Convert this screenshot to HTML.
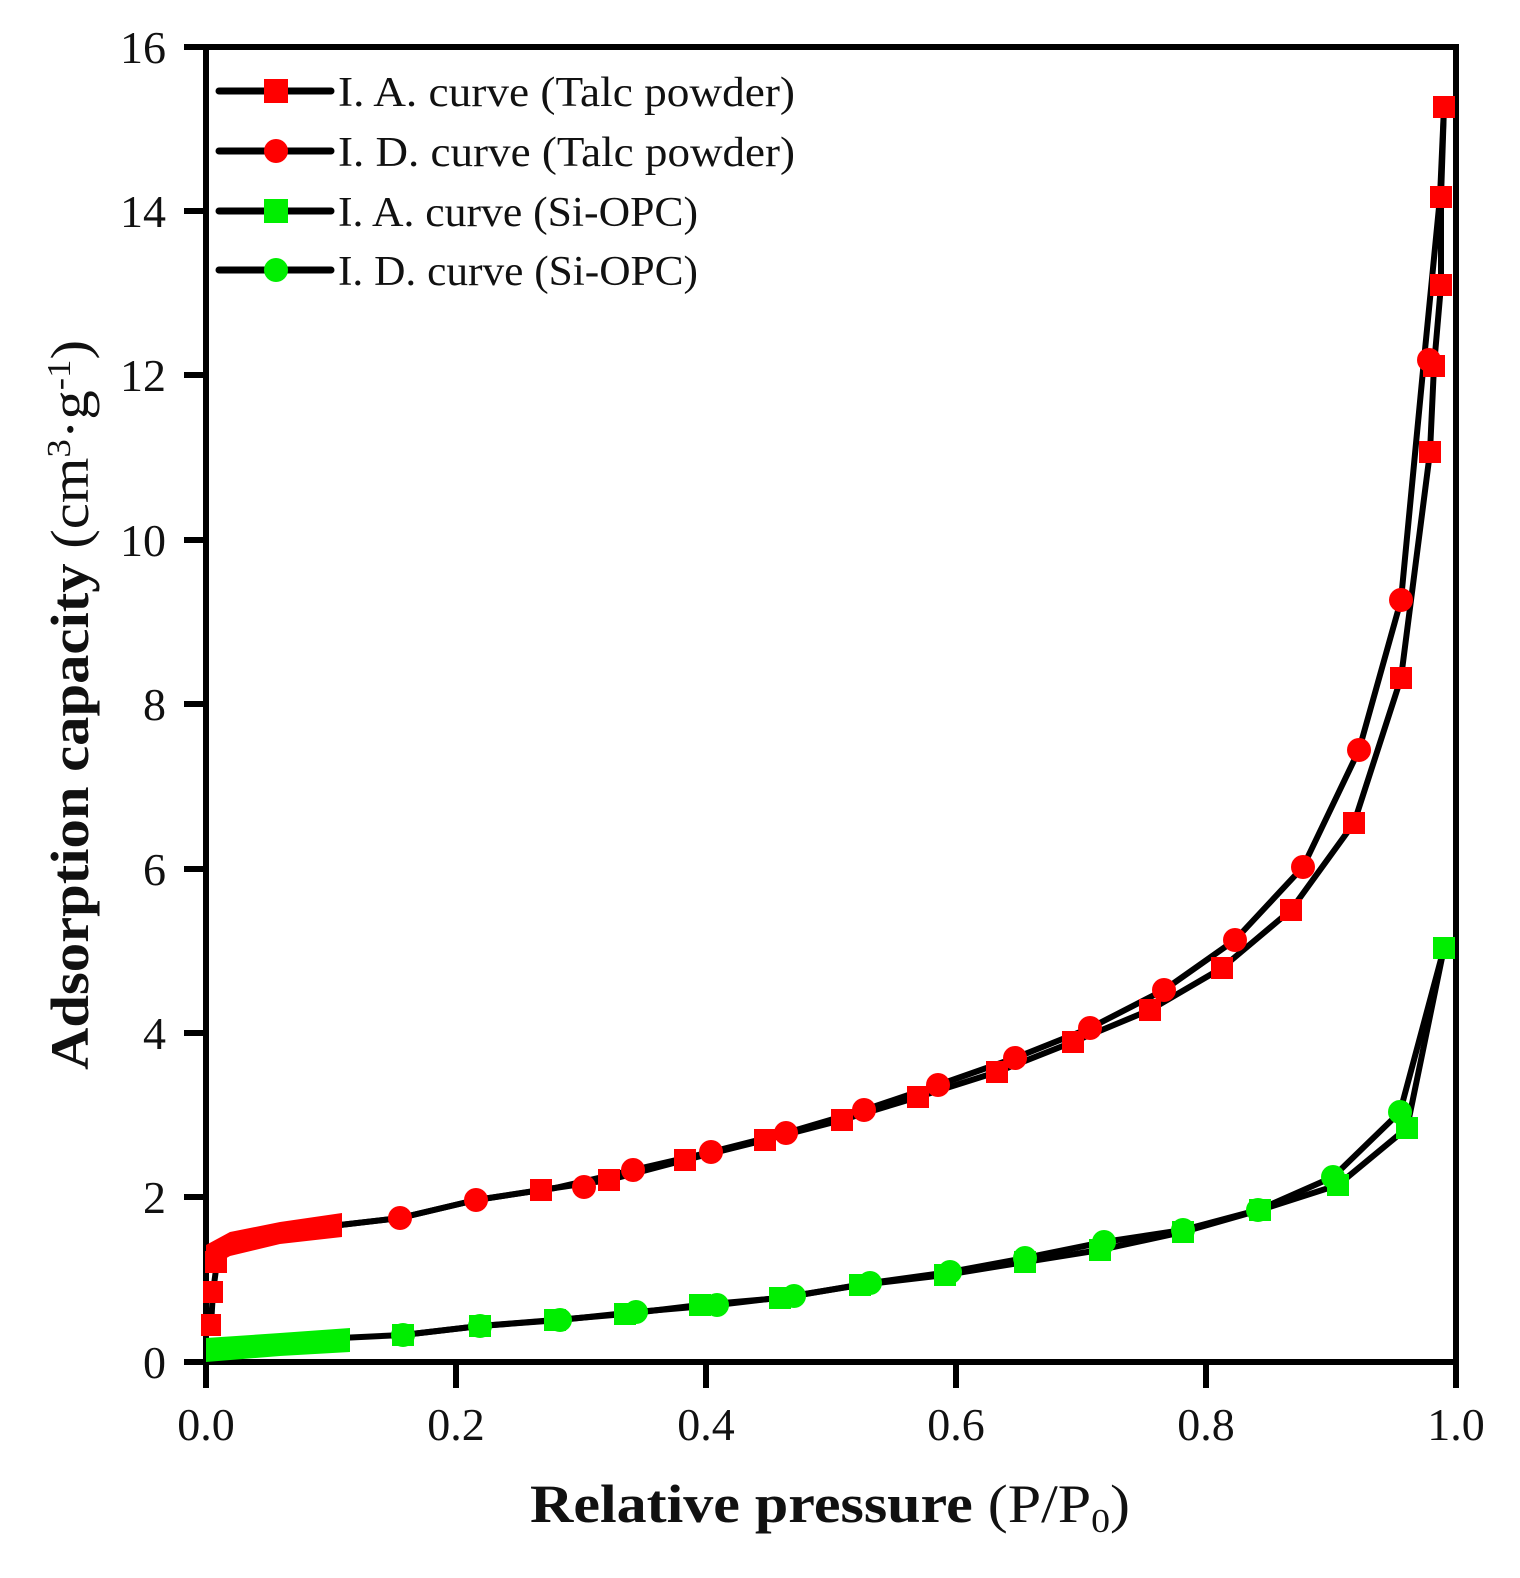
<!DOCTYPE html>
<html><head><meta charset="utf-8"><style>body{margin:0;background:#fff}</style></head><body>
<svg width="1520" height="1573" viewBox="0 0 1520 1573" xmlns="http://www.w3.org/2000/svg" font-family="Liberation Serif, serif">
<rect width="1520" height="1573" fill="#fff"/>
<g stroke="#000" stroke-width="6" fill="none">
<rect x="206" y="47" width="1250" height="1315"/>
<line x1="184" y1="47" x2="206" y2="47"/><line x1="184" y1="211" x2="206" y2="211"/><line x1="184" y1="375" x2="206" y2="375"/><line x1="184" y1="540" x2="206" y2="540"/><line x1="184" y1="704" x2="206" y2="704"/><line x1="184" y1="869" x2="206" y2="869"/><line x1="184" y1="1033" x2="206" y2="1033"/><line x1="184" y1="1197" x2="206" y2="1197"/><line x1="184" y1="1362" x2="206" y2="1362"/>
<line x1="206" y1="1362" x2="206" y2="1388"/><line x1="456" y1="1362" x2="456" y2="1388"/><line x1="706" y1="1362" x2="706" y2="1388"/><line x1="956" y1="1362" x2="956" y2="1388"/><line x1="1206" y1="1362" x2="1206" y2="1388"/><line x1="1456" y1="1362" x2="1456" y2="1388"/>
</g>
<g font-size="46" fill="#111" text-anchor="end">
<text x="166" y="63">16</text><text x="166" y="227">14</text><text x="166" y="391">12</text><text x="166" y="556">10</text><text x="166" y="720">8</text><text x="166" y="885">6</text><text x="166" y="1049">4</text><text x="166" y="1213">2</text><text x="166" y="1378">0</text>
</g>
<g font-size="46" fill="#111" text-anchor="middle">
<text x="206" y="1440">0.0</text><text x="456" y="1440">0.2</text><text x="706" y="1440">0.4</text><text x="956" y="1440">0.6</text><text x="1206" y="1440">0.8</text><text x="1456" y="1440">1.0</text>
</g>
<text x="530" y="1522" font-size="54" fill="#111" textLength="600" lengthAdjust="spacingAndGlyphs"><tspan font-weight="bold">Relative pressure</tspan> (P/P<tspan font-size="34" dy="10">0</tspan><tspan dy="-10">)</tspan></text>
<text transform="translate(88,1070) rotate(-90)" font-size="54" fill="#111" textLength="730" lengthAdjust="spacingAndGlyphs"><tspan font-weight="bold">Adsorption capacity</tspan> (cm<tspan font-size="34" dy="-18">3</tspan><tspan dy="18">·g</tspan><tspan font-size="34" dy="-18">-1</tspan><tspan dy="18">)</tspan></text>
<g stroke="#000" stroke-width="6" fill="none" stroke-linejoin="round">
<polyline points="211,1325 213,1292 217,1262 230,1243 280,1232 340,1225 400,1218 476,1200 541,1190 609,1180 685,1160 765,1140 842,1120 918,1097 997,1072 1073,1042 1150,1010 1222,968 1291,910 1354,823 1401,678 1430,452 1434,366 1441,285 1441,197 1444,107"/>
<polyline points="1444,107 1440,197 1424,360 1401,600 1359,750 1303,867 1235,940 1164,990 1090,1028 1015,1058 938,1085 864,1110 786,1133 711,1152 633,1170 555,1188 476,1200 400,1218 340,1225"/>
<polyline points="211,1350 280,1343 340,1338 403,1335 480,1326 555,1320 625,1314 700,1305 780,1298 860,1285 945,1275 1025,1262 1100,1250 1183,1232 1260,1210 1338,1185 1407,1128 1444,948"/>
<polyline points="1444,948 1400,1112 1333,1177 1258,1210 1183,1230 1104,1242 1025,1258 950,1272 870,1283 794,1296 717,1305 636,1312 560,1320 480,1326 403,1335"/>
</g>
<g fill="#f00">
<path d="M206,1245 L230,1232 L280,1222 L342,1213 L342,1237 L280,1244 L230,1256 L206,1270Z"/>
<rect x="201" y="1314" width="20" height="22"/><rect x="203" y="1281" width="20" height="22"/><rect x="205" y="1251" width="22" height="22"/>
<rect x="530" y="1179" width="22" height="22"/><rect x="598" y="1169" width="22" height="22"/><rect x="674" y="1149" width="22" height="22"/><rect x="754" y="1129" width="22" height="22"/><rect x="831" y="1109" width="22" height="22"/><rect x="907" y="1086" width="22" height="22"/><rect x="986" y="1061" width="22" height="22"/><rect x="1062" y="1031" width="22" height="22"/><rect x="1139" y="999" width="22" height="22"/><rect x="1211" y="957" width="22" height="22"/><rect x="1280" y="899" width="22" height="22"/><rect x="1343" y="812" width="22" height="22"/><rect x="1390" y="667" width="22" height="22"/><rect x="1419" y="441" width="22" height="22"/><rect x="1423" y="355" width="22" height="22"/><rect x="1430" y="274" width="22" height="22"/><rect x="1430" y="186" width="22" height="22"/><rect x="1433" y="96" width="22" height="22"/>
<circle cx="1429" cy="360" r="12"/><circle cx="1401" cy="600" r="12"/><circle cx="1359" cy="750" r="12"/><circle cx="1303" cy="867" r="12"/><circle cx="1235" cy="940" r="12"/><circle cx="1164" cy="990" r="12"/><circle cx="1090" cy="1028" r="12"/><circle cx="1015" cy="1058" r="12"/><circle cx="938" cy="1085" r="12"/><circle cx="864" cy="1110" r="12"/><circle cx="786" cy="1133" r="12"/><circle cx="711" cy="1152" r="12"/><circle cx="633" cy="1170" r="12"/><circle cx="584" cy="1187" r="12"/><circle cx="476" cy="1200" r="12"/><circle cx="400" cy="1218" r="12"/>
</g>
<g fill="#0e0">
<path d="M206,1338 L280,1333 L350,1328 L350,1352 L280,1356 L206,1362Z"/>
<rect x="392" y="1324" width="22" height="22"/><rect x="469" y="1315" width="22" height="22"/><rect x="544" y="1309" width="22" height="22"/><rect x="614" y="1303" width="22" height="22"/><rect x="689" y="1294" width="22" height="22"/><rect x="769" y="1287" width="22" height="22"/><rect x="849" y="1274" width="22" height="22"/><rect x="934" y="1264" width="22" height="22"/><rect x="1014" y="1251" width="22" height="22"/><rect x="1089" y="1239" width="22" height="22"/><rect x="1172" y="1221" width="22" height="22"/><rect x="1249" y="1199" width="22" height="22"/><rect x="1327" y="1174" width="22" height="22"/><rect x="1396" y="1117" width="22" height="22"/><rect x="1433" y="937" width="22" height="22"/>
<circle cx="1400" cy="1112" r="12"/><circle cx="1333" cy="1177" r="12"/><circle cx="1258" cy="1210" r="12"/><circle cx="1183" cy="1230" r="12"/><circle cx="1104" cy="1242" r="12"/><circle cx="1025" cy="1258" r="12"/><circle cx="950" cy="1272" r="12"/><circle cx="870" cy="1283" r="12"/><circle cx="794" cy="1296" r="12"/><circle cx="717" cy="1305" r="12"/><circle cx="636" cy="1312" r="12"/><circle cx="560" cy="1320" r="12"/><circle cx="480" cy="1326" r="12"/><circle cx="403" cy="1335" r="12"/>
</g>
<g stroke="#000" stroke-width="7" stroke-linecap="round">
<line x1="219" y1="91" x2="331" y2="91"/><line x1="219" y1="151" x2="331" y2="151"/><line x1="219" y1="211" x2="331" y2="211"/><line x1="219" y1="270" x2="331" y2="270"/>
</g>
<rect x="264" y="79" width="24" height="24" fill="#f00"/>
<circle cx="276" cy="151" r="12" fill="#f00"/>
<rect x="264" y="199" width="24" height="24" fill="#0e0"/>
<circle cx="276" cy="270" r="12" fill="#0e0"/>
<g font-size="42" fill="#111">
<text x="338" y="106" textLength="457" lengthAdjust="spacingAndGlyphs">I. A. curve (Talc powder)</text>
<text x="338" y="166" textLength="457" lengthAdjust="spacingAndGlyphs">I. D. curve (Talc powder)</text>
<text x="338" y="226" textLength="360" lengthAdjust="spacingAndGlyphs">I. A. curve (Si-OPC)</text>
<text x="338" y="285" textLength="360" lengthAdjust="spacingAndGlyphs">I. D. curve (Si-OPC)</text>
</g>
</svg>
</body></html>
